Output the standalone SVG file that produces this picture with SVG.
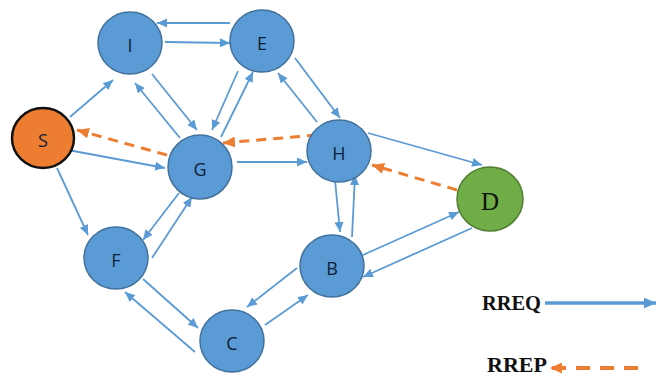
<svg xmlns="http://www.w3.org/2000/svg" width="656" height="376" viewBox="0 0 656 376">
<defs>
<marker id="ab" markerUnits="userSpaceOnUse" markerWidth="10" markerHeight="9" refX="10" refY="4.5" orient="auto"><path d="M0,0 L10,4.5 L0,9 z" fill="#5B9BD5"/></marker>
<marker id="ao" markerUnits="userSpaceOnUse" markerWidth="12" markerHeight="11" refX="12" refY="5.5" orient="auto"><path d="M0,0 L12,5.5 L0,11 z" fill="#ED7D31"/></marker>
<marker id="abl" markerUnits="userSpaceOnUse" markerWidth="12" markerHeight="11" refX="12" refY="5.5" orient="auto"><path d="M0,0 L12,5.5 L0,11 z" fill="#5B9BD5"/></marker>
</defs>
<style>
.n{fill:#5B9BD5;stroke:#41719C;stroke-width:1.5}
.t{font-family:"Open Sans","Liberation Sans",sans-serif;font-size:18px;fill:#0E1E36;text-anchor:middle;dominant-baseline:central}
.e{stroke:#5B9BD5;stroke-width:1.8;fill:none;marker-end:url(#ab)}
.r{stroke:#ED7D31;stroke-width:3;fill:none;stroke-dasharray:10 7;marker-end:url(#ao)}
.lg{font-family:"Liberation Serif",serif;font-weight:bold;font-size:20px;fill:#111}
</style>
<g id="connectors">
<line class="e" x1="230" y1="23" x2="157" y2="23"/>
<line class="e" x1="165" y1="42" x2="230" y2="43"/>
<line class="e" x1="152" y1="74" x2="197" y2="130"/>
<line class="e" x1="180" y1="138" x2="135" y2="83"/>
<line class="e" x1="238" y1="71" x2="212" y2="130"/>
<line class="e" x1="221" y1="137" x2="253" y2="72"/>
<line class="e" x1="317" y1="122" x2="278" y2="73"/>
<line class="e" x1="295" y1="58" x2="340" y2="118"/>
<line class="e" x1="70" y1="117" x2="113" y2="80"/>
<line class="e" x1="68" y1="150" x2="165" y2="168"/>
<line class="e" x1="237" y1="162" x2="307" y2="162"/>
<line class="e" x1="368" y1="133" x2="482" y2="165"/>
<line class="e" x1="335" y1="180" x2="340" y2="232"/>
<line class="e" x1="352" y1="237" x2="355" y2="175"/>
<line class="e" x1="363" y1="255" x2="459" y2="212"/>
<line class="e" x1="472" y1="228" x2="363" y2="277"/>
<line class="e" x1="57" y1="168" x2="88" y2="235"/>
<line class="e" x1="179" y1="193" x2="143" y2="240"/>
<line class="e" x1="152" y1="258" x2="192" y2="197"/>
<line class="e" x1="143" y1="279" x2="198" y2="328"/>
<line class="e" x1="195" y1="352" x2="125" y2="292"/>
<line class="e" x1="297" y1="268" x2="247" y2="307"/>
<line class="e" x1="265" y1="325" x2="308" y2="295"/>
<line class="r" x1="167" y1="155" x2="77" y2="130"/>
<line class="r" x1="317" y1="135" x2="223" y2="143"/>
<line class="r" x1="457" y1="190" x2="372" y2="165"/>
</g>
<g id="node-I"><ellipse class="n" cx="130" cy="43" rx="32" ry="31"/><text class="t" x="130" y="45">I</text></g>
<g id="node-E"><ellipse class="n" cx="262" cy="41" rx="32" ry="31"/><text class="t" x="262" y="43">E</text></g>
<g id="node-S"><ellipse cx="43" cy="138" rx="31" ry="30" fill="#ED7D31" stroke="#111" stroke-width="2.5"/><text class="t" x="43" y="140">S</text></g>
<g id="node-G"><ellipse class="n" cx="200" cy="167" rx="32" ry="32"/><text class="t" x="200" y="169">G</text></g>
<g id="node-H"><ellipse class="n" cx="339" cy="151" rx="32" ry="31"/><text class="t" x="339" y="153">H</text></g>
<g id="node-D"><ellipse cx="490" cy="199" rx="33" ry="32" fill="#70AD47" stroke="#507E32" stroke-width="1.5"/><text x="490" y="201" font-family="Liberation Serif,serif" font-size="25" fill="#111" text-anchor="middle" dominant-baseline="central">D</text></g>
<g id="node-F"><ellipse class="n" cx="116" cy="258" rx="32" ry="31"/><text class="t" x="116" y="260">F</text></g>
<g id="node-C"><ellipse class="n" cx="232" cy="341" rx="32" ry="31"/><text class="t" x="232" y="343">C</text></g>
<g id="node-B"><ellipse class="n" cx="332" cy="266" rx="32" ry="31"/><text class="t" x="332" y="268">B</text></g>
<g id="legend">
<text class="lg" x="482" y="310" textLength="59" lengthAdjust="spacingAndGlyphs">RREQ</text>
<line x1="545" y1="303" x2="656" y2="303" stroke="#5B9BD5" stroke-width="3.5" marker-end="url(#abl)"/>
<text class="lg" x="487" y="372" textLength="60" lengthAdjust="spacingAndGlyphs">RREP</text>
<line x1="638" y1="368" x2="550" y2="368" stroke="#ED7D31" stroke-width="4" stroke-dasharray="14 10" marker-end="url(#ao)"/>
</g>
</svg>
